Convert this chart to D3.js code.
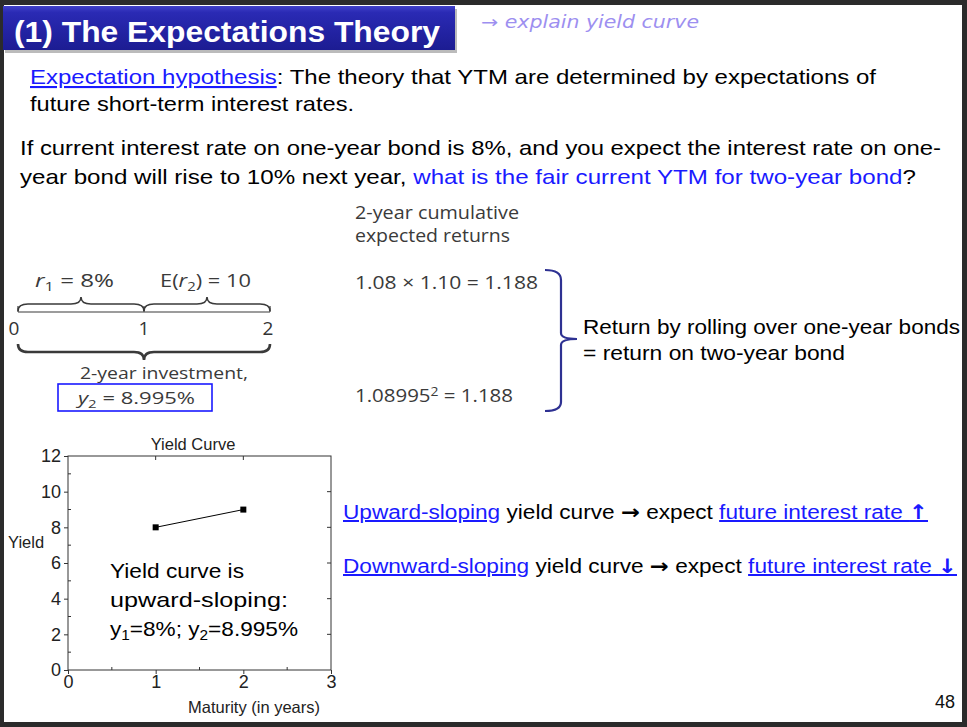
<!DOCTYPE html>
<html>
<head>
<meta charset="utf-8">
<script src="https://cdn.jsdelivr.net/npm/d3@7"></script>
<style>
  html, body { margin: 0; padding: 0; background: #2b2b2b; }
  svg { display: block; }
  text { font-family: "Liberation Sans", Arial, sans-serif; }
</style>
</head>
<body>
<svg id="slide" width="967" height="727"></svg>
<script>
// ---- data ----
const maturities = [1, 2];
const yields = [8, 8.995];
const xTicks = [0, 1, 2, 3];
const yTicks = [0, 2, 4, 6, 8, 10, 12];
const xMinor = [0.5, 1.5, 2.5];
const yMinor = [1, 3, 5, 7, 9, 11];
const timelineYears = [0, 1, 2];
const periodLabels = ["r1 = 8%", "E(r2) = 10"];

const svg = d3.select("#slide");
const W = 967, H = 727;

// slide background
svg.append("rect").attr("x", 4).attr("y", 5).attr("width", W - 9).attr("height", H - 10).attr("fill", "#fff");

// title bar
const defs = svg.append("defs");
const grad = defs.append("linearGradient").attr("id", "titleGrad").attr("x1", 0).attr("y1", 0).attr("x2", 0).attr("y2", 1);
grad.append("stop").attr("offset", "0%").attr("stop-color", "#4040c8");
grad.append("stop").attr("offset", "15%").attr("stop-color", "#2a2ab4");
grad.append("stop").attr("offset", "100%").attr("stop-color", "#1c1c92");
svg.append("rect").attr("x", 5).attr("y", 9).attr("width", 452).attr("height", 44).attr("fill", "#bbb");
svg.append("rect").attr("x", 3).attr("y", 6).attr("width", 452).attr("height", 44).attr("fill", "url(#titleGrad)");
svg.append("text").attr("x", 14).attr("y", 42).attr("fill", "#fff")
  .attr("font-size", 30).attr("font-weight", "bold")
  .attr("textLength", 426).attr("lengthAdjust", "spacingAndGlyphs")
  .text("(1) The Expectations Theory");

// handwritten note
svg.append("text").attr("x", 481).attr("y", 28).attr("fill", "#9d8ff0")
  .attr("font-size", 17).attr("font-style", "italic")
  .style("font-family", "'DejaVu Sans', sans-serif")
  .attr("textLength", 218).attr("lengthAdjust", "spacingAndGlyphs")
  .text("→ explain yield curve");

// helper: text line built from [string, style] parts
const BLUE = "#1a1aff";
function line(parent, x, y, size, len, parts, extra = {}) {
  const t = parent.append("text").attr("x", x).attr("y", y).attr("font-size", size)
    .attr("fill", extra.fill || "#000");
  if (len) t.attr("textLength", len).attr("lengthAdjust", "spacingAndGlyphs");
  if (extra.family) t.style("font-family", extra.family);
  parts.forEach(p => {
    const [s, st] = typeof p === "string" ? [p, {}] : p;
    const ts = t.append("tspan").text(s);
    if (st.blue) ts.attr("fill", BLUE);
    if (st.u) ts.style("text-decoration", "underline");
    if (st.i) ts.attr("font-style", "italic");
    if (st.arrow) ts.style("font-family", "'DejaVu Sans', sans-serif").attr("font-weight", "bold");
    if (st.sub) ts.attr("dy", st.sub).attr("font-size", size * 0.68);
    if (st.up) ts.attr("dy", -st.up);
    if (st.sup) ts.attr("dy", -st.sup).attr("font-size", size * 0.68);
  });
  return t;
}

// paragraph text
line(svg, 30, 84, 21, 846, [["Expectation hypothesis", { blue: true, u: true }], ": The theory that YTM are determined by expectations of"]);
line(svg, 30, 111, 21, 324, ["future short-term interest rates."]);
line(svg, 20, 155, 21, 921, ["If current interest rate on one-year bond is 8%, and you expect the interest rate on one-"]);
line(svg, 20, 184, 21, 896, ["year bond will rise to 10% next year, ", ["what is the fair current YTM for  two-year bond", { blue: true }], "?"]);

// ---- timeline diagram ----
const DG = "#3a3a3a";
const dFont = "'Open Sans', 'Noto Sans', sans-serif";
const tl = d3.scaleLinear().domain([0, 2]).range([18, 270]);
const g = svg.append("g");

function brace(a, b, yEnd, h, width) {
  const m = (a + b) / 2, yMid = yEnd - h / 2, yTip = yEnd - h, r = Math.min(10, (b - a) / 6);
  const p = d3.path();
  p.moveTo(a, yEnd);
  p.quadraticCurveTo(a, yMid, a + r, yMid);
  p.lineTo(m - r, yMid);
  p.quadraticCurveTo(m, yMid, m, yTip);
  p.quadraticCurveTo(m, yMid, m + r, yMid);
  p.lineTo(b - r, yMid);
  p.quadraticCurveTo(b, yMid, b, yEnd);
  g.append("path").attr("d", p.toString()).attr("fill", "none").attr("stroke", DG).attr("stroke-width", width);
}

// number line
g.append("line").attr("x1", tl(0)).attr("x2", tl(2)).attr("y1", 312).attr("y2", 312).attr("stroke", DG).attr("stroke-width", 1.2);
g.selectAll(".tk").data(timelineYears).join("line")
  .attr("x1", d => tl(d)).attr("x2", d => tl(d)).attr("y1", 306).attr("y2", 312)
  .attr("stroke", DG).attr("stroke-width", 1.2);
g.selectAll(".yr").data(timelineYears).join("text")
  .attr("x", d => tl(d) + (d === 0 ? -4 : d === 2 ? -2 : 0)).attr("y", 335)
  .attr("text-anchor", "middle").attr("font-size", 19).attr("fill", "#333").style("font-family", dFont)
  .text(d => d);

// upper braces (one per year)
d3.pairs(timelineYears).forEach(([a, b]) => brace(tl(a), tl(b), 311, 14, 1.6));
// lower brace (whole investment)
brace(tl(0), tl(2), 344, -16, 2.6);

// period labels
const periodX = [[35, 79], [160, 91]];
periodLabels.forEach((lab, i) => {
  const parts = i === 0
    ? [["r", { i: true }], ["1", { sub: 4 }], [" = 8%", { up: 4 }]]
    : ["E(", ["r", { i: true }], ["2", { sub: 4 }], [") = 10", { up: 4 }]];
  line(g, periodX[i][0], 287, 18, periodX[i][1], parts, { fill: DG, family: dFont });
});

line(g, 80, 379, 17, 168, ["2-year investment,"], { fill: DG, family: dFont });
g.append("rect").attr("x", 58).attr("y", 384).attr("width", 154).attr("height", 27)
  .attr("fill", "none").attr("stroke", BLUE).attr("stroke-width", 1.6);
line(g, 78, 404, 17, 117, [["y", { i: true }], ["2", { sub: 4 }], [" = 8.995%", { up: 4 }]], { fill: DG, family: dFont });

line(g, 355, 219, 18, 164, ["2-year cumulative"], { fill: DG, family: dFont });
line(g, 355, 242, 18, 155, ["expected returns"], { fill: DG, family: dFont });
line(g, 355, 289, 18, 183, ["1.08 × 1.10 = 1.188"], { fill: DG, family: dFont });
line(g, 355, 402, 18, 158, ["1.08995", ["2", { sup: 6 }], [" = 1.188", { up: -6 }]], { fill: DG, family: dFont });

// right bracket
const bp = d3.path();
bp.moveTo(545, 270); bp.quadraticCurveTo(561, 270, 561, 280);
bp.lineTo(561, 333); bp.quadraticCurveTo(561, 339, 577, 339);
bp.quadraticCurveTo(561, 339, 561, 345);
bp.lineTo(561, 402); bp.quadraticCurveTo(561, 411, 545, 411);
svg.append("path").attr("d", bp.toString()).attr("fill", "none").attr("stroke", "#2e3192").attr("stroke-width", 2.2);

line(svg, 583, 334, 21, 377, ["Return by rolling over one-year bonds"]);
line(svg, 583, 360, 21, 262, ["= return on two-year bond"]);

// ---- yield curve chart ----
const x = d3.scaleLinear().domain([0, 3]).range([68, 331]);
const y = d3.scaleLinear().domain([0, 12]).range([670, 456]);
const c = svg.append("g");
const AX = "#333";

c.append("rect").attr("x", x(0)).attr("y", y(12)).attr("width", x(3) - x(0)).attr("height", y(0) - y(12))
  .attr("fill", "none").attr("stroke", AX).attr("stroke-width", 1);

const styleAxis = sel => {
  sel.attr("font-size", null).attr("font-family", null);
  sel.select(".domain").remove();
  sel.selectAll("line").attr("stroke", AX);
  sel.selectAll("text").attr("fill", "#222")
    .style("font-size", "18px").style("font-family", "'Liberation Sans', Arial, sans-serif");
};
c.append("g").attr("transform", `translate(${x(0)},0)`)
  .call(d3.axisLeft(y).tickValues(yTicks).tickFormat(d3.format("d")).tickSize(4).tickPadding(3))
  .call(styleAxis);
c.append("g").attr("transform", `translate(0,${y(0)})`)
  .call(d3.axisBottom(x).tickValues(xTicks).tickFormat(d3.format("d")).tickSize(4).tickPadding(1))
  .call(styleAxis);

// inward ticks on the other sides, minor ticks
c.selectAll(".rt").data(yTicks.slice(1, -1)).join("line")
  .attr("x1", x(3)).attr("x2", x(3) - 4).attr("y1", d => y(d)).attr("y2", d => y(d)).attr("stroke", AX);
c.selectAll(".tt").data(xTicks.slice(1, -1)).join("line")
  .attr("x1", d => x(d)).attr("x2", d => x(d)).attr("y1", y(12)).attr("y2", y(12) + 4).attr("stroke", AX);
c.selectAll(".ym").data(yMinor).join("line")
  .attr("x1", x(0)).attr("x2", x(0) + 3).attr("y1", d => y(d)).attr("y2", d => y(d)).attr("stroke", AX);
c.selectAll(".xm").data(xMinor).join("line")
  .attr("x1", d => x(d)).attr("x2", d => x(d)).attr("y1", y(0)).attr("y2", y(0) - 3).attr("stroke", AX);

// series
const pts = maturities.map((m, i) => [m, yields[i]]);
c.append("path").attr("d", d3.line().x(d => x(d[0])).y(d => y(d[1]))(pts))
  .attr("fill", "none").attr("stroke", "#000").attr("stroke-width", 1);
c.selectAll(".pt").data(pts).join("rect")
  .attr("x", d => x(d[0]) - 3).attr("y", d => y(d[1]) - 3).attr("width", 6).attr("height", 6).attr("fill", "#000");

// chart labels
c.append("text").attr("x", 193).attr("y", 450).attr("text-anchor", "middle")
  .attr("font-size", 16.5).attr("fill", "#222").text("Yield Curve");
c.append("text").attr("x", 8).attr("y", 548).attr("font-size", 16.5).attr("fill", "#222").text("Yield");
c.append("text").attr("x", 254).attr("y", 713).attr("text-anchor", "middle")
  .attr("font-size", 16.5).attr("fill", "#222").text("Maturity (in years)");

line(c, 110, 578, 21, 134, ["Yield curve is"]);
line(c, 110, 607, 21, 178, ["upward-sloping:"]);
line(c, 110, 636, 21, 188, ["y", ["1", { sub: 4 }], ["=8%; y", { up: 4 }], ["2", { sub: 4 }], ["=8.995%", { up: 4 }]]);

// right-hand conclusions
line(svg, 343, 519, 20, 585, [["Upward-sloping", { blue: true, u: true }], " yield curve ", ["→", { arrow: true }], " expect ",
  ["future interest rate ", { blue: true, u: true }], ["↑", { blue: true, u: true, arrow: true }]]);
line(svg, 343, 573, 20, 614, [["Downward-sloping", { blue: true, u: true }], " yield curve ", ["→", { arrow: true }], " expect ",
  ["future interest rate ", { blue: true, u: true }], ["↓", { blue: true, u: true, arrow: true }]]);

// page number
svg.append("text").attr("x", 955).attr("y", 708).attr("text-anchor", "end").attr("font-size", 18).attr("fill", "#111").text("48");
</script>
</body>
</html>
